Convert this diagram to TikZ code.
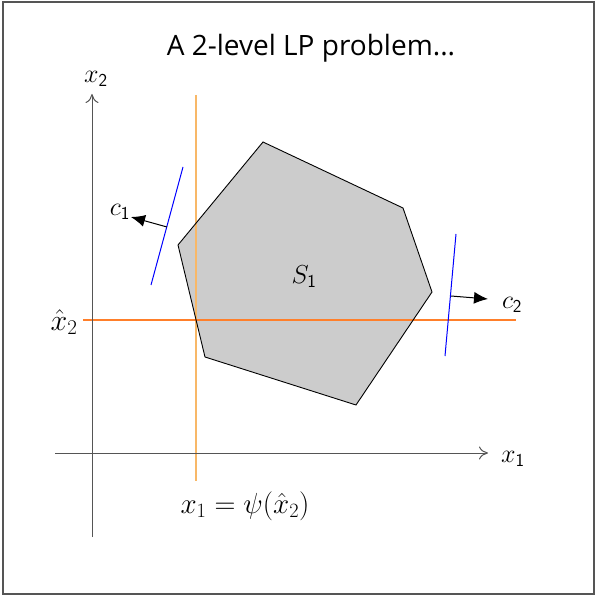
\documentclass[tikz,border=0pt]{standalone}
\usepackage{fix-cm}
\usepackage{fontspec}
\newfontfamily\titlefont{Open Sans}
\usetikzlibrary{arrows.meta}
\definecolor{axisgray}{RGB}{85,85,85}
\definecolor{polyfill}{RGB}{204,204,204}
\definecolor{lightorange}{RGB}{248,184,104}
\definecolor{darkorange}{RGB}{255,127,42}
\tikzset{
  axis/.style={draw=axisgray, line width=1pt, -{To[length=9pt,width=13pt,line width=1pt]}},
  normalarrow/.style={draw=black, line width=1pt, -{Latex[length=14pt,width=12pt]}},
  cline/.style={draw=blue, line width=1pt},
  lbl/.style={inner sep=0pt, font=\fontsize{26}{28}\selectfont},
}
\begin{document}
\begin{tikzpicture}[x=1pt,y=-1pt]
\useasboundingbox (0,0) rectangle (597,596);
\draw[axisgray, line width=1.2pt] (3,2) rectangle (594,594);
\node[inner sep=0pt, font=\titlefont\fontsize{28}{30}\selectfont] (title) at (311,48) {A 2-level LP problem...};
% polygon
\coordinate (p1) at (263,142);
\coordinate (p2) at (403,208);
\coordinate (p3) at (432,292);
\coordinate (p4) at (356,405);
\coordinate (p5) at (205,357);
\coordinate (p6) at (178,245);
\fill[polyfill] (p1) -- (p2) -- (p3) -- (p4) -- (p5) -- (p6) -- cycle;
% orange lines
\coordinate (vt) at (196,95);
\coordinate (vb) at (196,481);
\coordinate (hl) at (83,320);
\coordinate (hr) at (516,320);
\draw[lightorange, line width=1.5pt] (vt) -- (vb);
\draw[darkorange, line width=1.2pt] (hl) -- (hr);
\draw[black, line width=0.9pt] (p1) -- (p2) -- (p3) -- (p4) -- (p5) -- (p6) -- cycle;
% axes
\coordinate (x1s) at (55,453);
\coordinate (x1e) at (488,453);
\coordinate (x2s) at (92,537);
\coordinate (x2e) at (92,94);
\draw[axis] (x1s) -- (x1e);
\draw[axis] (x2s) -- (x2e);
\node[lbl] (lx1) at (513,459) {$x_{\mathsf{1}}$};
\node[lbl] (lx2) at (96,79) {$x_{\mathsf{2}}$};
% c1
\coordinate (c1a) at (183,167);
\coordinate (c1b) at (151,285);
\coordinate (c1o) at (167,227);
\coordinate (c1t) at (131,217);
\draw[cline] (c1a) -- (c1b);
\draw[normalarrow] (c1o) -- (c1t);
\node[lbl] (lc1) at (120,212) {$c_{\mathsf{1}}$};
% c2
\coordinate (c2a) at (456,234);
\coordinate (c2b) at (445,356);
\coordinate (c2o) at (451,296);
\coordinate (c2t) at (488,299);
\draw[cline] (c2a) -- (c2b);
\draw[normalarrow] (c2o) -- (c2t);
\node[lbl] (lc2) at (512,305) {$c_{\mathsf{2}}$};
% labels
\node[lbl] (ls1) at (304,277) {$S_{\mathsf{1}}$};
\node[lbl, font=\fontsize{30}{32}\selectfont] (lx2h) at (64,322) {$\hat{x}_{2}$};
\node[lbl, font=\fontsize{29}{31}\selectfont] (lpsi) at (245,506) {$x_1 = \psi(\hat{x}_2)$};
\end{tikzpicture}
\end{document}
